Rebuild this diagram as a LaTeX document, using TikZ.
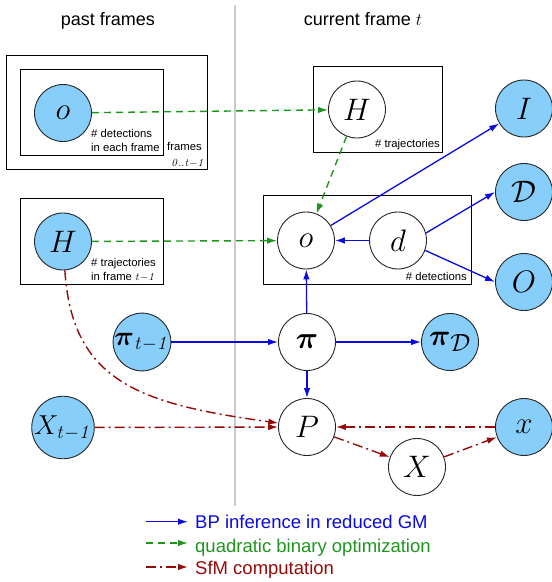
\documentclass[tikz,border=0pt]{standalone}
\usepackage{amsmath}
\usepackage{graphicx}
\usepackage[no-math]{fontspec}
\setmainfont{Liberation Sans}
\usetikzlibrary{arrows.meta}
\definecolor{obsblue}{RGB}{135,206,250}
\definecolor{bpcol}{RGB}{10,10,225}
\definecolor{qbocol}{RGB}{30,150,30}
\definecolor{sfmcol}{RGB}{150,10,10}
\newcommand{\varfont}{\fontsize{24.88}{28}\selectfont}
\newcommand{\varlab}[2]{\scalebox{#1}{$#2$}}
\newcommand{\prev}{\scriptscriptstyle\mathit{t{-}1}}
\newcommand{\notefont}{\fontsize{11.3}{13.7}\selectfont}
\newcommand{\headfont}{\fontsize{18}{22}\selectfont}
\newcommand{\legfont}{\fontsize{18.5}{22}\selectfont}

\begin{document}
\begin{tikzpicture}[x=1pt,y=1pt,
  var/.style={circle,draw=black!85,line width=.9pt,minimum size=57pt,inner sep=0pt,font=\varfont,fill=white},
  obs/.style={var,fill=obsblue},
  plate/.style={draw,line width=.9pt},
  note/.style={font=\notefont,inner sep=0pt},
  legend/.style={font=\legfont,anchor=base west,inner xsep=7pt},
  bp/.style={draw=bpcol,line width=1.3pt,-{Latex[length=10pt,width=6.5pt]}},
  qbo/.style={draw=qbocol,line width=1.4pt,dash pattern=on 7pt off 5pt,-{Latex[length=10pt,width=6.5pt]}},
  sfm/.style={draw=sfmcol,line width=1.4pt,dash pattern=on 10pt off 4pt on 2pt off 4pt,-{Latex[length=10pt,width=6.5pt]}}]
  \useasboundingbox (0,0) rectangle (552,582);
  \draw[black!20,line width=1.3pt] (235,577) -- (235,76);
  \node[font=\headfont,anchor=base] (hpast) at (108,556) {past frames};
  \node[font=\headfont,anchor=base] (hcur) at (363,556) {current frame $t$};

  \draw[plate] (6,413) rectangle (207,527);
  \draw[plate] (20,427) rectangle (163,513);
  \draw[plate] (20,298) rectangle (163,384);
  \draw[plate] (313,430) rectangle (442,516);
  \draw[plate] (263,298) rectangle (471,387);

  \foreach \n/\x/\y/\s/\lab in {o1/63/469/1.25/o, Hp/63/340.5/1.25/H, I/524/473.5/1.25/I,
      D/524/390/1.25/\mathcal{D}, O/524/300/1.25/O, pi1/142/240/1.1/\boldsymbol{\pi}_{\prev},
      piD/450/240/1.2/\boldsymbol{\pi}_{\mathcal{D}}, X1/63/154.5/1.1/X_{\prev}, x/524/155/1.25/x}
    \node[obs] (\n) at (\x,\y) {\varlab{\s}{\lab}};
  \foreach \n/\x/\y/\lab in {Hc/357/472.5/H, oc/306/341.5/o, d/398/341.5/d,
      pi/307/240/\boldsymbol{\pi}, P/307/155/P, X/417/115/X}
    \node[var] (\n) at (\x,\y) {\varlab{1.25}{\lab}};

  \node[note,anchor=north west,align=left] (ndet) at (91,453) {\# detections\\in each frame};
  \node[note,anchor=base west] (nfr) at (167,431) {frames};
  \node[note,anchor=base east] (nrange) at (205,415) {$\mathit{0..t{-}1}$};
  \node[note,anchor=north west,align=left] (ntrp) at (91,324) {\# trajectories\\in frame $\mathit{t{-}1}$};
  \node[note,anchor=base east] (ntrc) at (440,434) {\# trajectories};
  \node[note,anchor=base east] (ndc) at (467,301.5) {\# detections};

  \draw[qbo] (o1) -- (Hc);
  \draw[qbo] (Hp) -- (oc);
  \draw[qbo] (Hc) -- (oc);
  \draw[bp] (d) -- (oc);
  \draw[bp] (oc) -- (I);
  \draw[bp] (d.15) -- (D.west);
  \draw[bp] (d.-20) -- (O.west);
  \draw[bp] (pi) -- (oc);
  \draw[bp] (pi1) -- (pi);
  \draw[bp] (pi) -- (piD);
  \draw[bp] (pi) -- (P);
  \draw[sfm] (Hp) .. controls (72,200) and (140,178) .. (P);
  \draw[sfm] (X1) -- (P);
  \draw[sfm] (x) -- (P);
  \draw[sfm] (P) -- (X);
  \draw[sfm] (X) -- (x);

  \node[legend,text=bpcol] (lgbp) at (188,53.7) {BP inference in reduced GM};
  \node[legend,text=qbocol] (lgqbo) at (188,30) {quadratic binary optimization};
  \node[legend,text=sfmcol] (lgsfm) at (188,8) {SfM computation};
  \coordinate (lg1) at (146,60.3);
  \coordinate (lg2) at (146,39);
  \coordinate (lg3) at (146,15);
  \draw[bp] (lg1) -- (lg1 -| lgbp.west);
  \draw[qbo] (lg2) -- (lg2 -| lgqbo.west);
  \draw[sfm] (lg3) -- (lg3 -| lgsfm.west);
\end{tikzpicture}
\end{document}
